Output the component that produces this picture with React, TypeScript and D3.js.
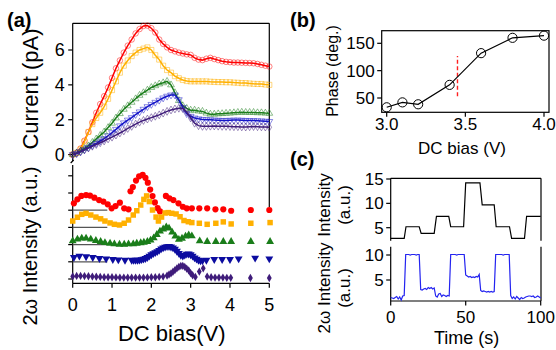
import React from "react";
import * as d3 from "d3";

// ---------- Panel (a) top: current vs DC bias ----------
const biasTop = [0,0.1,0.2,0.3,0.4,0.5,0.6,0.7,0.8,0.9,1.0,1.1,1.2,1.3,1.4,1.5,1.6,1.7,1.8,1.9,2.0,2.1,2.2,2.3,2.4,2.5,2.6,2.7,2.8,2.9,3.0,3.1,3.2,3.3,3.4,3.5,3.6,3.7,3.8,3.9,4.0,4.1,4.2,4.3,4.4,4.5,4.6,4.7,4.8,4.9,5.0];
const currentRed = [0,0.1,0.35,0.8,1.3,1.85,2.4,2.9,3.35,3.85,4.4,4.95,5.4,5.85,6.25,6.6,6.95,7.2,7.38,7.4,7.25,7.0,6.6,6.35,6.15,6.0,5.92,5.85,5.8,5.75,5.72,5.55,5.45,5.42,5.5,5.55,5.48,5.42,5.36,5.32,5.3,5.28,5.28,5.27,5.26,5.25,5.24,5.2,5.15,5.1,5.05];
const currentOrange = [0,0.1,0.3,0.75,1.3,1.75,2.1,2.4,2.75,3.2,3.7,4.2,4.7,5.1,5.4,5.65,5.85,6.0,6.08,6.15,6.0,5.7,5.45,5.1,4.85,4.7,4.5,4.38,4.28,4.22,4.2,4.2,4.2,4.2,4.2,4.18,4.17,4.16,4.16,4.15,4.15,4.13,4.12,4.1,4.1,4.08,4.06,4.05,4.05,4.02,4.0];
const currentGreen = [0,0.1,0.22,0.35,0.5,0.7,0.9,1.1,1.3,1.55,1.8,2.1,2.35,2.6,2.8,3.0,3.2,3.4,3.55,3.7,3.85,3.95,4.05,4.12,4.2,4.0,3.55,3.1,2.8,2.65,2.55,2.55,2.5,2.48,2.38,2.32,2.32,2.34,2.35,2.37,2.38,2.4,2.42,2.43,2.42,2.42,2.42,2.4,2.4,2.38,2.37];
const currentBlue = [0,0.06,0.16,0.28,0.4,0.52,0.64,0.78,0.92,1.08,1.26,1.45,1.65,1.82,1.98,2.12,2.3,2.45,2.6,2.75,2.88,3.0,3.12,3.25,3.35,3.42,3.42,3.15,2.7,2.35,2.2,2.1,2.05,2.02,2.0,2.0,1.98,1.97,1.96,1.96,1.97,1.98,1.98,1.97,1.96,1.95,1.95,1.94,1.93,1.92,1.9];
const currentPurple = [0,0.08,0.18,0.28,0.38,0.48,0.58,0.68,0.78,0.9,1.0,1.12,1.24,1.36,1.5,1.62,1.75,1.86,1.96,2.04,2.12,2.2,2.28,2.38,2.48,2.56,2.62,2.66,2.64,2.45,2.1,1.8,1.66,1.62,1.62,1.63,1.64,1.63,1.62,1.62,1.61,1.6,1.6,1.59,1.58,1.6,1.61,1.6,1.59,1.58,1.57];
const currentTicks = [0,2,4,6];
const biasTicks = [0,1,2,3,4,5];

// ---------- Panel (a) bottom: 2ω intensity (offset traces) ----------
const redBias2w = [0.03,0.12,0.22,0.34,0.44,0.55,0.67,0.78,0.89,0.99,1.09,1.2,1.31,1.42,1.47,1.53,1.61,1.69,1.78,1.85,1.91,1.97,2.03,2.09,2.16,2.22,2.37,2.46,2.56,2.69,2.8,2.9,3.03,3.22,3.42,3.63,3.83,4.03,4.53,5.0];
const red2w = [4.4,4.63,4.83,4.88,4.85,4.73,4.59,4.5,4.34,4.11,4.24,4.44,4.11,4.05,5.1,5.35,5.72,5.97,6.05,5.88,5.6,5.2,4.82,4.45,4.12,3.93,4.83,4.69,4.59,4.4,4.2,4.11,4.11,4.11,4.11,4.05,4.05,3.97,4.01,4.01];
const orangeBias2w = [0,0.12,0.23,0.34,0.46,0.59,0.71,0.82,0.95,1.06,1.19,1.31,1.42,1.54,1.63,1.73,1.81,1.88,1.95,2.03,2.12,2.18,2.26,2.35,2.43,2.52,2.63,2.73,2.83,2.94,3.03,3.22,3.42,3.64,3.83,4.03,4.53,5.02];
const orange2w = [3.37,3.59,3.76,3.82,3.72,3.6,3.5,3.37,3.26,3.18,3.14,3.24,3.43,3.72,3.97,4.3,4.63,4.83,4.5,4.01,3.6,3.37,3.6,3.84,3.86,3.82,3.78,3.62,3.4,3.33,3.28,3.24,3.18,3.24,3.32,3.2,3.24,3.28];
const greenBias2w = [0,0.12,0.23,0.34,0.46,0.59,0.71,0.82,0.95,1.06,1.19,1.31,1.42,1.54,1.63,1.73,1.81,1.9,1.98,2.06,2.14,2.22,2.3,2.38,2.45,2.53,2.61,2.7,2.78,2.87,2.95,3.03,3.23,3.42,3.64,3.83,4.03,4.53,5.02];
const green2w = [2.21,2.31,2.37,2.37,2.31,2.23,2.17,2.11,2.07,2.03,2.01,2.01,2.03,2.03,2.07,2.1,2.13,2.17,2.25,2.38,2.58,2.78,2.9,3.02,2.95,2.72,2.48,2.3,2.36,2.48,2.55,2.5,2.21,2.17,2.17,2.17,2.17,2.17,2.17];
const blueBias2w = [0.03,0.17,0.34,0.51,0.68,0.85,1.02,1.16,1.33,1.5,1.55,1.6,1.65,1.7,1.75,1.8,1.85,1.9,1.95,2.0,2.05,2.1,2.15,2.2,2.25,2.3,2.35,2.4,2.45,2.5,2.55,2.6,2.65,2.7,2.75,2.8,2.85,2.9,2.95,3.0,3.05,3.1,3.15,3.2,3.25,3.3,3.4,3.6,3.8,4.0,4.22,4.64,5.0];
const blue2w = [1.26,1.34,1.3,1.26,1.2,1.18,1.14,1.12,1.1,1.1,1.09,1.1,1.1,1.11,1.13,1.16,1.2,1.26,1.34,1.42,1.48,1.54,1.6,1.67,1.76,1.82,1.86,1.89,1.9,1.87,1.82,1.74,1.62,1.5,1.38,1.34,1.4,1.45,1.46,1.42,1.34,1.24,1.16,1.1,1.07,1.07,1.1,1.14,1.14,1.14,1.18,1.22,1.18];
const purpleBias2w = [0,0.1,0.2,0.3,0.4,0.5,0.6,0.7,0.8,0.9,1.0,1.1,1.2,1.3,1.4,1.5,1.6,1.7,1.8,1.9,2.0,2.1,2.2,2.3,2.4,2.45,2.5,2.55,2.6,2.65,2.7,2.75,2.8,2.85,2.9,2.95,3.0,3.05,3.12,3.22,3.32,3.42,3.52,3.62,3.72,3.82,3.92,4.02,4.52,5.0];
const purple2w = [0.15,0.18,0.18,0.17,0.16,0.14,0.13,0.12,0.1,0.1,0.1,0.09,0.08,0.08,0.08,0.08,0.08,0.08,0.08,0.09,0.1,0.1,0.12,0.14,0.2,0.26,0.33,0.42,0.52,0.62,0.7,0.76,0.76,0.7,0.6,0.5,0.34,0.22,0.12,0.43,0.62,0.14,0.1,0.08,0.08,0.08,0.07,0.07,0.06,0.06];
const offsetLines = [1,2,3,4];
const offsetTicks = [0,1,2,3,4,5,6];

// ---------- Panel (b): phase vs DC bias ----------
const phaseBias = [3.0,3.1,3.2,3.4,3.6,3.8,4.0];
const phaseDeg = [33,42,38.5,74,132,160,164];
const phaseMarkBias = 3.45;
const phaseMarkRange = [53,127];
const phaseXTicks = [3.0,3.5,4.0];
const phaseYTicks = [50,100,150];

// ---------- Panel (c): time traces ----------
const stepTime = [0,9,10.2,19,20.3,29,30.5,38.7,40,48.6,50,59.5,61,69,70.3,79.2,80.6,89.2,90.6,100];
const stepIntensity = [2.8,2.8,5.2,5.2,3.85,3.85,7.34,7.34,5.2,5.2,14.2,14.2,9.7,9.7,5.2,5.2,2.8,2.8,7.34,7.34];
const traceTime = [0,1,2,3,4,5,6,7,8,9,10,11,12,13,14,15,16,17,18,19,20,21,22,23,24,25,26,27,28,29,30,31,32,33,34,35,36,37,38,39,40,41,42,43,44,45,46,47,48,49,50,51,52,53,54,55,56,57,58,59,60,61,62,63,64,65,66,67,68,69,70,71,72,73,74,75,76,77,78,79,80,81,82,83,84,85,86,87,88,89,90,91,92,93,94,95,96,97,98,99,100];
const trace2w = [1.5,1.4,1.3,1.5,1.7,1.2,1.6,1.0,1.8,1.9,
  10.1,10.1,10.1,10.0,10.1,10.1,10.1,10.0,10.1,10.1,
  3.1,3.0,3.2,3.3,3.1,3.5,3.3,3.5,3.2,3.4,
  1.8,1.6,2.2,2.3,1.7,2.0,1.9,1.7,1.9,1.8,
  10.1,10.1,10.1,10.1,10.0,10.1,10.1,10.1,10.1,10.1,
  6.0,5.8,5.6,5.7,5.5,5.6,5.5,5.7,5.6,6.1,
  2.9,2.7,2.8,2.7,2.6,2.7,2.6,2.7,2.6,2.7,
  10.1,10.1,10.1,10.1,10.1,10.0,10.1,10.1,10.1,10.1,
  1.9,1.3,1.6,1.2,1.7,1.4,1.1,1.5,1.3,1.4,
  1.6,1.7,1.8,1.8,1.7,1.8,1.5,1.6,1.8,1.6,1.4];
const timeTicks = [0,50,100];
const stepTicks = [5,10,15];
const traceTicks = [5,10];

const FONT = "Arial, 'Liberation Sans', Helvetica, sans-serif";

function Sym({ type, x, y, size, fill, stroke, sw = 1, rot = 0, op = 1 }: any) {
  const d = d3.symbol().type(type).size(size)() as string;
  return <path d={d} transform={`translate(${x},${y}) rotate(${rot})`} fill={fill} stroke={stroke} strokeWidth={sw} opacity={op} />;
}

export default function App() {
  // ----- panel (a) geometry -----
  const aL = 72.7, aR = 269.3, aT = 23.3, aB = 283.3;
  const xA = d3.scaleLinear().domain([0, 5]).range([aL, aR]);
  const yCur = d3.scaleLinear().domain([0, 6]).range([154.6, 50]);
  const y2w = d3.scaleLinear().domain([0, 6]).range([279, 175.8]);

  const topSeries = [
    { v: currentRed, color: "#ff0000", type: d3.symbolCircle, size: 24, rot: 0 },
    { v: currentOrange, color: "#ffb000", type: d3.symbolSquare, size: 26, rot: 0 },
    { v: currentGreen, color: "#1a7d1a", type: d3.symbolTriangle, size: 20, rot: 0 },
    { v: currentBlue, color: "#1414c8", type: d3.symbolTriangle, size: 20, rot: 180 },
    { v: currentPurple, color: "#3f1c7a", type: d3.symbolDiamond, size: 18, rot: 0 },
  ];
  const botSeries = [
    { b: redBias2w, v: red2w, color: "#ff0000", type: d3.symbolCircle, size: 30, rot: 0 },
    { b: orangeBias2w, v: orange2w, color: "#ffb000", type: d3.symbolSquare, size: 30, rot: 0 },
    { b: greenBias2w, v: green2w, color: "#1a7d1a", type: d3.symbolTriangle, size: 27, rot: 0 },
    { b: blueBias2w, v: blue2w, color: "#0c0ca0", type: d3.symbolTriangle, size: 27, rot: 180 },
    { b: purpleBias2w, v: purple2w, color: "#3f1c7a", type: d3.symbolDiamond, size: 20, rot: 0 },
  ];
  const lineTop = d3.line<number>().x((_, i) => xA(biasTop[i])).y((d) => yCur(d));

  // ----- panel (b) geometry -----
  const bL = 381.7, bR = 549, bT = 30.7, bB = 112.3;
  const xB = d3.scaleLinear().domain([3.0, 4.0]).range([386.7, 544]);
  const yB = d3.scaleLinear().domain([50, 150]).range([98, 43.3]);
  const lineB = d3.line<number>().x((_, i) => xB(phaseBias[i])).y((d) => yB(d));

  // ----- panel (c) geometry -----
  const cL = 390.7, cR = 541, cT1 = 178.3, cB1 = 240.7, cT2 = 246.7, cB2 = 301;
  const xC = d3.scaleLinear().domain([0, 100]).range([390.7, 540.7]);
  const yC1 = d3.scaleLinear().domain([5, 15]).range([227.7, 179]);
  const yC2 = d3.scaleLinear().domain([5, 10]).range([280, 255]);
  const lineC1 = d3.line<number>().x((_, i) => xC(stepTime[i])).y((d) => yC1(d));
  const lineC2 = d3.line<number>().x((_, i) => xC(traceTime[i])).y((d) => yC2(d));

  const ax = { stroke: "#000", strokeWidth: 1.2, fill: "none" } as any;
  const f1 = d3.format(".1f");

  return (
    <svg width={556} height={350} style={{ position: "absolute", left: 0, top: 0, background: "#fff" }} fontFamily={FONT}>
      <rect x={0} y={0} width={556} height={350} fill="#fff" />
      {/* ===== Panel (a) ===== */}
      <text x={7} y={27} fontSize={20} fontWeight="bold">(a)</text>
      <line x1={aL} y1={aT} x2={aR} y2={aT} {...ax} />
      <line x1={aR} y1={aT} x2={aR} y2={207} {...ax} />
      <line x1={aL} y1={aT} x2={aL} y2={161} {...ax} />
      <line x1={aL} y1={165} x2={aL} y2={aB} {...ax} />
      <line x1={aL - 2} y1={163} x2={aL + 1} y2={160} {...ax} />
      <line x1={aL} y1={aB} x2={aR} y2={aB} {...ax} />
      {currentTicks.map((t) => (
        <g key={"ct" + t}>
          <line x1={aL - 4.5} x2={aL} y1={yCur(t)} y2={yCur(t)} {...ax} />
          <text x={aL - 8} y={yCur(t)} dy="0.36em" fontSize={18} textAnchor="end">{t}</text>
        </g>
      ))}
      {offsetTicks.map((t) => (
        <line key={"ot" + t} x1={aL - 4.5} x2={aL} y1={y2w(t)} y2={y2w(t)} {...ax} />
      ))}
      {biasTicks.map((t) => (
        <g key={"bt" + t}>
          <line x1={xA(t)} x2={xA(t)} y1={aB} y2={aB + 4.5} {...ax} />
          <text x={xA(t)} y={305} dy="0.36em" fontSize={18} textAnchor="middle">{t}</text>
        </g>
      ))}
      {offsetLines.map((t) => (
        <line key={"ol" + t} x1={xA(0)} x2={xA(0.88)} y1={y2w(t)} y2={y2w(t)} stroke="#555" strokeWidth={1.2} />
      ))}
      <text transform="translate(30,89) rotate(-90)" dy="0.36em" fontSize={22} textAnchor="middle">Current (pA)</text>
      <text transform="translate(30,246) rotate(-90)" dy="0.36em" fontSize={20} textAnchor="middle">2ω Intensity (a.u.)</text>
      <text x={171.7} y={333} dy="0.36em" fontSize={22} textAnchor="middle">DC bias(V)</text>
      {topSeries.map((s, si) => (
        <g key={"ts" + si}>
          {s.v.map((v, i) => (
            <Sym key={i} type={s.type} x={xA(biasTop[i])} y={yCur(v)} size={s.size} fill="none" stroke={s.color} sw={0.9} rot={s.rot} op={0.55} />
          ))}
          <path d={lineTop(s.v) as string} fill="none" stroke={s.color} strokeWidth={1.5} />
        </g>
      ))}
      {botSeries.map((s, si) => (
        <g key={"bs" + si}>
          {s.v.map((v, i) => (
            <Sym key={i} type={s.type} x={xA(s.b[i])} y={y2w(v)} size={s.size} fill={s.color} stroke="none" rot={s.rot} />
          ))}
        </g>
      ))}

      {/* ===== Panel (b) ===== */}
      <text x={290} y={27} fontSize={20} fontWeight="bold">(b)</text>
      <rect x={bL} y={bT} width={bR - bL} height={bB - bT} {...ax} />
      {phaseYTicks.map((t) => (
        <g key={"py" + t}>
          <line x1={bL - 4.5} x2={bL} y1={yB(t)} y2={yB(t)} {...ax} />
          <text x={bL - 7} y={yB(t)} dy="0.36em" fontSize={17} textAnchor="end">{t}</text>
        </g>
      ))}
      {phaseXTicks.map((t) => (
        <g key={"px" + t}>
          <line x1={xB(t)} x2={xB(t)} y1={bB} y2={bB + 4.5} {...ax} />
          <text x={xB(t)} y={124} dy="0.36em" fontSize={17} textAnchor="middle">{f1(t)}</text>
        </g>
      ))}
      <text transform="translate(332,71) rotate(-90)" dy="0.36em" fontSize={16} textAnchor="middle">Phase (deg.)</text>
      <text x={462} y={148} dy="0.36em" fontSize={17} textAnchor="middle">DC bias (V)</text>
      <line x1={xB(phaseMarkBias)} x2={xB(phaseMarkBias)} y1={yB(phaseMarkRange[0])} y2={yB(phaseMarkRange[1])} stroke="#ff2020" strokeWidth={1.4} strokeDasharray="4,2.5" />
      <path d={lineB(phaseDeg) as string} fill="none" stroke="#000" strokeWidth={1.2} />
      {phaseDeg.map((v, i) => (
        <circle key={"pc" + i} cx={xB(phaseBias[i])} cy={yB(v)} r={4.6} fill="none" stroke="#000" strokeWidth={1} />
      ))}

      {/* ===== Panel (c) ===== */}
      <text x={290} y={166} fontSize={20} fontWeight="bold">(c)</text>
      <line x1={cL} y1={cT1} x2={cR} y2={cT1} {...ax} />
      <line x1={cL} y1={cT1} x2={cL} y2={cB1} {...ax} />
      <line x1={cR} y1={cT1} x2={cR} y2={cB1} {...ax} />
      <line x1={cL} y1={cT2} x2={cL} y2={cB2} {...ax} />
      <line x1={cR} y1={cT2} x2={cR} y2={cB2} {...ax} />
      <line x1={cL} y1={cB2} x2={cR} y2={cB2} {...ax} />
      {stepTicks.map((t) => (
        <g key={"st" + t}>
          <line x1={cL - 4.5} x2={cL} y1={yC1(t)} y2={yC1(t)} {...ax} />
          <text x={cL - 7} y={yC1(t)} dy="0.36em" fontSize={17} textAnchor="end">{t}</text>
        </g>
      ))}
      {traceTicks.map((t) => (
        <g key={"tt" + t}>
          <line x1={cL - 4.5} x2={cL} y1={yC2(t)} y2={yC2(t)} {...ax} />
          <text x={cL - 7} y={yC2(t)} dy="0.36em" fontSize={17} textAnchor="end">{t}</text>
        </g>
      ))}
      {timeTicks.map((t) => (
        <g key={"tm" + t}>
          <line x1={xC(t)} x2={xC(t)} y1={cB2} y2={cB2 + 4.5} {...ax} />
          <text x={xC(t)} y={316.7} dy="0.36em" fontSize={17} textAnchor="middle">{t}</text>
        </g>
      ))}
      <text x={466.7} y={338} dy="0.36em" fontSize={18} textAnchor="middle">Time (s)</text>
      <text transform="translate(324,205) rotate(-90)" dy="0.36em" fontSize={17} textAnchor="middle">Intensity</text>
      <text transform="translate(344,205) rotate(-90)" dy="0.36em" fontSize={17} textAnchor="middle">(a.u.)</text>
      <text transform="translate(324,288) rotate(-90)" dy="0.36em" fontSize={17} textAnchor="middle">2ω Intensity</text>
      <text transform="translate(344,288) rotate(-90)" dy="0.36em" fontSize={17} textAnchor="middle">(a.u.)</text>
      <path d={lineC1(stepIntensity) as string} fill="none" stroke="#000" strokeWidth={1.2} />
      <path d={lineC2(trace2w) as string} fill="none" stroke="#2323f0" strokeWidth={1.2} />
    </svg>
  );
}
